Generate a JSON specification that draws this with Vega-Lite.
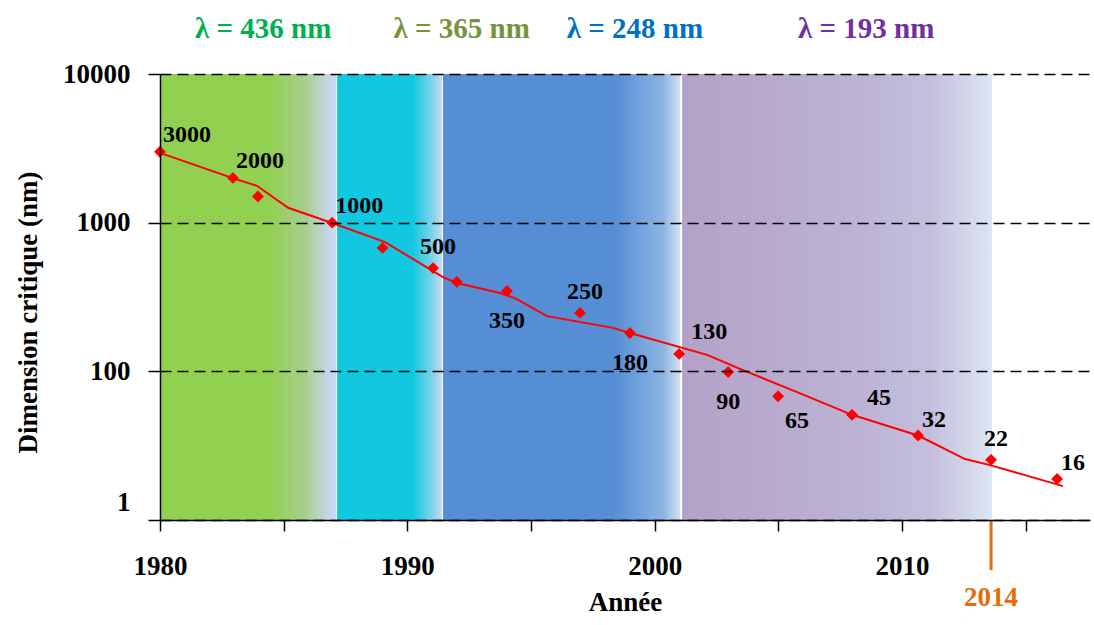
{
  "$schema": "https://vega.github.io/schema/vega-lite/v6.json",
  "width": 930,
  "height": 446,
  "autosize": {"type": "none"},
  "padding": {"left": 160, "top": 74, "right": 4, "bottom": 105},
  "config": {
    "font": "Liberation Serif",
    "view": {"stroke": null},
    "axis": {"labelFont": "Liberation Serif", "titleFont": "Liberation Serif", "labelFontWeight": "bold", "titleFontWeight": "bold", "labelColor": "black", "titleColor": "black", "domainColor": "black", "tickColor": "black"}
  },
  "datasets": {
    "bands": [
      {"band": "436", "start": 1980, "end": 1987.12},
      {"band": "365", "start": 1987.16, "end": 1991.4},
      {"band": "248", "start": 1991.44, "end": 2001.03},
      {"band": "193", "start": 2001.11, "end": 2013.64}
    ],
    "trend": [
      {"year": 1980, "value": 2950},
      {"year": 1983.03, "value": 1970},
      {"year": 1983.92, "value": 1770},
      {"year": 1985.18, "value": 1260},
      {"year": 1986.96, "value": 995},
      {"year": 1989.1, "value": 740},
      {"year": 1991.44, "value": 430},
      {"year": 1992.0, "value": 393},
      {"year": 1993.75, "value": 336},
      {"year": 1994.35, "value": 311},
      {"year": 1995.65, "value": 235},
      {"year": 1998.32, "value": 196},
      {"year": 1999.0, "value": 181},
      {"year": 2002.12, "value": 129},
      {"year": 2003.57, "value": 102},
      {"year": 2005.88, "value": 71},
      {"year": 2007.98, "value": 51},
      {"year": 2010.65, "value": 37},
      {"year": 2012.55, "value": 25.7},
      {"year": 2013.56, "value": 23.4},
      {"year": 2016.51, "value": 16.9}
    ],
    "nodes": [
      {"year": 1980, "value": 3000, "label": "3000"},
      {"year": 1982.95, "value": 2000, "label": "2000"},
      {"year": 1983.96, "value": 1500, "label": ""},
      {"year": 1986.96, "value": 1000, "label": "1000"},
      {"year": 1989.0, "value": 676, "label": ""},
      {"year": 1991.04, "value": 495, "label": "500"},
      {"year": 1992.0, "value": 400, "label": ""},
      {"year": 1994.03, "value": 347, "label": "350"},
      {"year": 1996.98, "value": 247, "label": "250"},
      {"year": 1999.0, "value": 181, "label": "180"},
      {"year": 2000.99, "value": 131, "label": "130"},
      {"year": 2002.97, "value": 99, "label": "90"},
      {"year": 2004.99, "value": 68, "label": "65"},
      {"year": 2007.98, "value": 51, "label": "45"},
      {"year": 2010.65, "value": 37, "label": "32"},
      {"year": 2013.6, "value": 25.4, "label": "22"},
      {"year": 2016.27, "value": 18.9, "label": "16"}
    ],
    "lambdas": [
      {"year": 1984.17, "label": "λ = 436 nm"},
      {"year": 1992.2, "label": "λ = 365 nm"},
      {"year": 1999.2, "label": "λ = 248 nm"},
      {"year": 2008.55, "label": "λ = 193 nm"}
    ],
    "marker": [{"year": 2013.6, "label": "2014"}]
  },
  "layer": [
    {
      "data": {"name": "bands"},
      "transform": [{"filter": "datum.band == '436'"}],
      "mark": {"type": "rect", "fill": {"gradient": "linear", "x1": 0, "y1": 0, "x2": 1, "y2": 0, "stops": [
        {"offset": 0, "color": "#92D050"}, {"offset": 0.62, "color": "#92D050"}, {"offset": 0.82, "color": "#A6CF8A"}, {"offset": 0.96, "color": "#C6D6EC"}, {"offset": 1, "color": "#CCDAF2"}]}},
      "encoding": {
        "x": {"field": "start", "type": "quantitative", "scale": {"domain": [1980, 2017.6], "nice": false, "zero": false}, "title": "Année"},
        "x2": {"field": "end"}
      }
    },
    {
      "data": {"name": "bands"},
      "transform": [{"filter": "datum.band == '365'"}],
      "mark": {"type": "rect", "fill": {"gradient": "linear", "x1": 0, "y1": 0, "x2": 1, "y2": 0, "stops": [
        {"offset": 0, "color": "#12C8E0"}, {"offset": 0.72, "color": "#12C8E0"}, {"offset": 0.9, "color": "#7AD2EA"}, {"offset": 1, "color": "#C8DAF2"}]}},
      "encoding": {
        "x": {"field": "start", "type": "quantitative", "scale": {"domain": [1980, 2017.6], "nice": false, "zero": false}, "title": "Année"},
        "x2": {"field": "end"}
      }
    },
    {
      "data": {"name": "bands"},
      "transform": [{"filter": "datum.band == '248'"}],
      "mark": {"type": "rect", "fill": {"gradient": "linear", "x1": 0, "y1": 0, "x2": 1, "y2": 0, "stops": [
        {"offset": 0, "color": "#558ED5"}, {"offset": 0.72, "color": "#558ED5"}, {"offset": 0.93, "color": "#8DB4E2"}, {"offset": 1, "color": "#D4E0F4"}]}},
      "encoding": {
        "x": {"field": "start", "type": "quantitative", "scale": {"domain": [1980, 2017.6], "nice": false, "zero": false}, "title": "Année"},
        "x2": {"field": "end"}
      }
    },
    {
      "data": {"name": "bands"},
      "transform": [{"filter": "datum.band == '193'"}],
      "mark": {"type": "rect", "fill": {"gradient": "linear", "x1": 0, "y1": 0, "x2": 1, "y2": 0, "stops": [
        {"offset": 0, "color": "#B3A2C7"}, {"offset": 0.55, "color": "#BCB2D4"}, {"offset": 0.8, "color": "#C4BEDC"}, {"offset": 1, "color": "#DCE6F4"}]}},
      "encoding": {
        "x": {"field": "start", "type": "quantitative", "scale": {"domain": [1980, 2017.6], "nice": false, "zero": false}, "title": "Année"},
        "x2": {"field": "end"}
      }
    },
    {
      "data": {"name": "trend"},
      "mark": {"type": "line", "color": "#FF0000", "strokeWidth": 2},
      "encoding": {
        "x": {"field": "year", "type": "quantitative", "scale": {"domain": [1980, 2017.6], "nice": false, "zero": false}, "title": "Année",
          "axis": {"values": [1980, 1985, 1990, 1995, 2000, 2005, 2010, 2015], "labelExpr": "datum.value % 10 == 0 ? '' + datum.value : ''", "labelFontSize": 27, "labelPadding": 22, "tickSize": 11, "tickWidth": 1.5, "domainWidth": 1.5, "titleFontSize": 27, "titlePadding": 10, "grid": false, "zindex": 1, "labelFlush": false}},
        "y": {"field": "value", "type": "quantitative", "scale": {"type": "log", "domain": [10, 10000], "nice": false}, "title": "Dimension critique  (nm)",
          "axis": {"values": [10, 100, 1000, 10000], "labelExpr": "datum.value == 10 ? '1' : format(datum.value, 'd')", "labelOffset": {"condition": {"test": "datum.value == 10", "value": -18}, "value": 0}, "labelFontSize": 27, "labelPadding": 18, "tickSize": 12, "tickWidth": 1.5, "domainWidth": 1.5, "grid": true, "gridDash": [11, 6], "gridColor": "black", "gridWidth": 1.5, "gridOpacity": 1, "titleFontSize": 27, "titlePadding": 20, "titleY": 238, "zindex": 1, "labelFlush": false}}
      }
    },
    {
      "data": {"name": "nodes"},
      "mark": {"type": "point", "shape": "diamond", "filled": true, "color": "#FF0000", "size": 140, "opacity": 1},
      "encoding": {
        "x": {"field": "year", "type": "quantitative", "scale": {"domain": [1980, 2017.6], "nice": false, "zero": false}, "title": "Année"},
        "y": {"field": "value", "type": "quantitative", "scale": {"type": "log", "domain": [10, 10000], "nice": false}, "title": "Dimension critique  (nm)"}
      }
    },
    {
      "data": {"name": "nodes"},
      "transform": [{"filter": {"field": "label", "oneOf": ["3000", "2000", "1000", "45"]}}],
      "mark": {"type": "text", "fontSize": 24, "fontWeight": "bold", "color": "black", "dx": 27, "dy": -17, "align": "center", "baseline": "middle"},
      "encoding": {
        "x": {"field": "year", "type": "quantitative", "scale": {"domain": [1980, 2017.6], "nice": false, "zero": false}, "title": "Année"},
        "y": {"field": "value", "type": "quantitative", "scale": {"type": "log", "domain": [10, 10000], "nice": false}, "title": "Dimension critique  (nm)"},
        "text": {"field": "label"}
      }
    },
    {
      "data": {"name": "nodes"},
      "transform": [{"filter": {"field": "label", "oneOf": ["130"]}}],
      "mark": {"type": "text", "fontSize": 24, "fontWeight": "bold", "color": "black", "dx": 30, "dy": -22, "align": "center", "baseline": "middle"},
      "encoding": {
        "x": {"field": "year", "type": "quantitative", "scale": {"domain": [1980, 2017.6], "nice": false, "zero": false}, "title": "Année"},
        "y": {"field": "value", "type": "quantitative", "scale": {"type": "log", "domain": [10, 10000], "nice": false}, "title": "Dimension critique  (nm)"},
        "text": {"field": "label"}
      }
    },
    {
      "data": {"name": "nodes"},
      "transform": [{"filter": {"field": "label", "oneOf": ["32", "16"]}}],
      "mark": {"type": "text", "fontSize": 24, "fontWeight": "bold", "color": "black", "dx": 16, "dy": -16, "align": "center", "baseline": "middle"},
      "encoding": {
        "x": {"field": "year", "type": "quantitative", "scale": {"domain": [1980, 2017.6], "nice": false, "zero": false}, "title": "Année"},
        "y": {"field": "value", "type": "quantitative", "scale": {"type": "log", "domain": [10, 10000], "nice": false}, "title": "Dimension critique  (nm)"},
        "text": {"field": "label"}
      }
    },
    {
      "data": {"name": "nodes"},
      "transform": [{"filter": {"field": "label", "oneOf": ["500", "250", "22"]}}],
      "mark": {"type": "text", "fontSize": 24, "fontWeight": "bold", "color": "black", "dx": 5, "dy": -21, "align": "center", "baseline": "middle"},
      "encoding": {
        "x": {"field": "year", "type": "quantitative", "scale": {"domain": [1980, 2017.6], "nice": false, "zero": false}, "title": "Année"},
        "y": {"field": "value", "type": "quantitative", "scale": {"type": "log", "domain": [10, 10000], "nice": false}, "title": "Dimension critique  (nm)"},
        "text": {"field": "label"}
      }
    },
    {
      "data": {"name": "nodes"},
      "transform": [{"filter": {"field": "label", "oneOf": ["350", "180", "90"]}}],
      "mark": {"type": "text", "fontSize": 24, "fontWeight": "bold", "color": "black", "dx": 0, "dy": 30, "align": "center", "baseline": "middle"},
      "encoding": {
        "x": {"field": "year", "type": "quantitative", "scale": {"domain": [1980, 2017.6], "nice": false, "zero": false}, "title": "Année"},
        "y": {"field": "value", "type": "quantitative", "scale": {"type": "log", "domain": [10, 10000], "nice": false}, "title": "Dimension critique  (nm)"},
        "text": {"field": "label"}
      }
    },
    {
      "data": {"name": "nodes"},
      "transform": [{"filter": {"field": "label", "oneOf": ["65"]}}],
      "mark": {"type": "text", "fontSize": 24, "fontWeight": "bold", "color": "black", "dx": 19, "dy": 25, "align": "center", "baseline": "middle"},
      "encoding": {
        "x": {"field": "year", "type": "quantitative", "scale": {"domain": [1980, 2017.6], "nice": false, "zero": false}, "title": "Année"},
        "y": {"field": "value", "type": "quantitative", "scale": {"type": "log", "domain": [10, 10000], "nice": false}, "title": "Dimension critique  (nm)"},
        "text": {"field": "label"}
      }
    },
    {
      "data": {"name": "lambdas"},
      "mark": {"type": "text", "fontSize": 29, "fontWeight": "bold", "align": "center", "baseline": "middle"},
      "encoding": {
        "x": {"field": "year", "type": "quantitative", "scale": {"domain": [1980, 2017.6], "nice": false, "zero": false}, "title": "Année"},
        "y": {"datum": 20000, "type": "quantitative", "scale": {"type": "log", "domain": [10, 10000], "nice": false}, "title": "Dimension critique  (nm)"},
        "text": {"field": "label"},
        "color": {"field": "label", "type": "nominal", "legend": null, "scale": {"domain": ["λ = 436 nm", "λ = 365 nm", "λ = 248 nm", "λ = 193 nm"], "range": ["#00B050", "#77933C", "#0070C0", "#7030A0"]}}
      }
    },
    {
      "data": {"name": "marker"},
      "mark": {"type": "rule", "color": "#E46C0A", "strokeWidth": 3},
      "encoding": {
        "x": {"field": "year", "type": "quantitative", "scale": {"domain": [1980, 2017.6], "nice": false, "zero": false}, "title": "Année"},
        "y": {"datum": 10, "type": "quantitative", "scale": {"type": "log", "domain": [10, 10000], "nice": false}, "title": "Dimension critique  (nm)"},
        "y2": {"datum": 4.6}
      }
    },
    {
      "data": {"name": "marker"},
      "mark": {"type": "text", "fontSize": 27, "fontWeight": "bold", "color": "#E46C0A", "align": "center", "baseline": "middle"},
      "encoding": {
        "x": {"field": "year", "type": "quantitative", "scale": {"domain": [1980, 2017.6], "nice": false, "zero": false}, "title": "Année"},
        "y": {"datum": 3.0, "type": "quantitative", "scale": {"type": "log", "domain": [10, 10000], "nice": false}, "title": "Dimension critique  (nm)"},
        "text": {"field": "label"}
      }
    }
  ]
}
